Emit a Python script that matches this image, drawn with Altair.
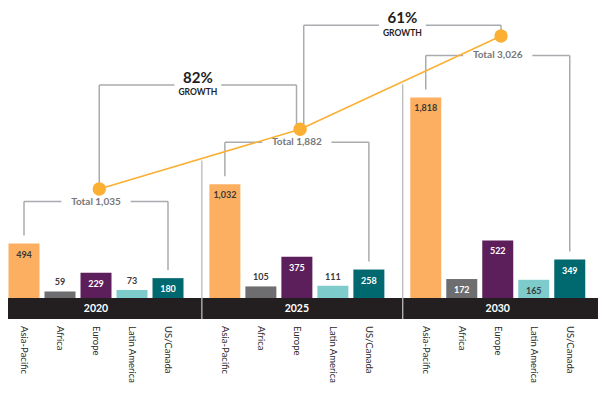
import altair as alt
import pandas as pd

# ---------------- data ----------------
years = ["2020", "2025", "2030"]
regions = ["Asia-Pacific", "Africa", "Europe", "Latin America", "US/Canada"]
asia_pacific = [494, 1032, 1818]
africa = [59, 105, 172]
europe = [229, 375, 522]
latin_america = [73, 111, 165]
us_canada = [180, 258, 349]
totals = [1035, 1882, 3026]
growth = ["82%", "61%"]

bar_colors = ["#FCAF60", "#6E6E70", "#5C1F5B", "#7ECBCB", "#00686F"]
inside_text_colors = ["#3A3A3A", "#FFFFFF", "#FFFFFF", "#3A3A3A", "#FFFFFF"]
LINE_COLOR = "#FBB034"
BRACKET = "#A9ABAE"
FONT = "Lato"

series = [asia_pacific, africa, europe, latin_america, us_canada]

# ---------------- layout ----------------
W, H = 590, 379
SLOT = 36.0            # px per bar slot
GROUP = 5.58           # slots between groups
X_MIN = -16.0 / SLOT
X_MAX = X_MIN + W / SLOT
PX = 0.1103            # px per unit (bars)
BASE = 290.0           # plot y of zero line
YB_MAX = BASE / PX
YB_MIN = -(H - BASE) / PX
BAND_H = 21
TOT_BOTTOM = 232.9     # plot y of total 0 on the totals scale

xs = alt.Scale(domain=[X_MIN, X_MAX], nice=False, zero=False, padding=0)
ysb = alt.Scale(domain=[YB_MIN, YB_MAX], nice=False, zero=False)
yst = alt.Scale(type="pow", exponent=1.28, domain=[0, 3344], range=[TOT_BOTTOM, 0], nice=False, zero=False)


def X(f):
    return alt.X(f, type="quantitative", scale=xs, axis=None)


def YB(f):
    return alt.Y(f, type="quantitative", scale=ysb, axis=None)


def YT(f):
    return alt.Y(f, type="quantitative", scale=yst, axis=None)


def gx(g, i):
    return g * GROUP + i


rows = []
for g, yr in enumerate(years):
    for i, reg in enumerate(regions):
        v = series[i][g]
        rows.append(dict(pos=gx(g, i), value=v, region=reg, year=yr, zero=0,
                         color=bar_colors[i], label=f"{v:,}",
                         tcolor=inside_text_colors[i], inside=v >= 150))
bars = pd.DataFrame(rows)

band = pd.DataFrame([dict(x=X_MIN, x2=X_MAX, zero=0)])
year_df = pd.DataFrame([dict(x=gx(g, 2), zero=0, year=y) for g, y in enumerate(years)])

# total brackets (bar scale)
th, tv, tl = [], [], []
for g in range(3):
    ap, us = asia_pacific[g], us_canada[g]
    mid = gx(g, 2)
    th.append(dict(x=gx(g, 0), x2=mid - 0.96, a=ap))
    th.append(dict(x=mid + 0.96, x2=gx(g, 4), a=ap))
    tv.append(dict(x=gx(g, 0), a=ap, b=ap))
    tv.append(dict(x=gx(g, 4), a=ap, b=us))
    tl.append(dict(x=mid, a=ap, label=f"Total {totals[g]:,}"))
th, tv, tl = pd.DataFrame(th), pd.DataFrame(tv), pd.DataFrame(tl)

# totals layer
dots = pd.DataFrame([dict(x=gx(g, 2) + 0.09, total=totals[g], zero=0) for g in range(3)])
seps = pd.DataFrame([dict(x=gx(g, 4) + 0.94, t=(totals[g] + totals[g + 1]) / 2, zero=0) for g in range(2)])
gh, gv, gt = [], [], []
for g in range(2):
    left = dots.x[g] + (0.0 if g == 0 else 0.1)
    right = dots.x[g + 1] - (0.0 if g + 1 == 2 else 0.1)
    mid = (left + right) / 2
    gh.append(dict(x=left, x2=mid - 0.65, t=totals[g]))
    gh.append(dict(x=mid + 0.65, x2=right, t=totals[g]))
    gv.append(dict(x=left, t=totals[g], t2=totals[g]))
    gv.append(dict(x=right, t=totals[g], t2=totals[g + 1]))
    gt.append(dict(x=mid, t=totals[g], pct=growth[g], word="GROWTH"))
gh, gv, gt = pd.DataFrame(gh), pd.DataFrame(gv), pd.DataFrame(gt)

# ---------------- bar layer ----------------
band_l = alt.Chart(band).mark_rect(color="#231F20", y2Offset=BAND_H).encode(
    x=X("x"), x2=alt.X2("x2"), y=YB("zero"), y2=alt.Y2("zero"))
bar_l = alt.Chart(bars).mark_bar(width=31).encode(
    x=X("pos"), y=YB("value"), y2=alt.Y2("zero"), color=alt.Color("color:N", scale=None))
inside_l = alt.Chart(bars).transform_filter("datum.inside").mark_text(
    font=FONT, fontSize=9, fontWeight="bold", yOffset=11, baseline="middle").encode(
    x=X("pos"), y=YB("value"), text="label:N", color=alt.Color("tcolor:N", scale=None))
outside_l = alt.Chart(bars).transform_filter("!datum.inside").mark_text(
    font=FONT, fontSize=9, fontWeight="bold", yOffset=-9, baseline="middle", color="#3A3A3A").encode(
    x=X("pos"), y=YB("value"), text="label:N")
year_l = alt.Chart(year_df).mark_text(
    font=FONT, fontSize=10.5, fontWeight="bold", color="white", yOffset=10.5, baseline="middle").encode(
    x=X("x"), y=YB("zero"), text="year:N")
cat_l = alt.Chart(bars).mark_text(
    font=FONT, fontSize=9.5, color="#2A2A2A", angle=90, align="left", baseline="middle", yOffset=28).encode(
    x=X("pos"), y=YB("zero"), text="region:N")
tbh_l = alt.Chart(th).mark_rule(color=BRACKET, strokeWidth=1.5, yOffset=-42).encode(
    x=X("x"), x2=alt.X2("x2"), y=YB("a"))
tbv_l = alt.Chart(tv).mark_rule(color=BRACKET, strokeWidth=1.5, yOffset=-42, y2Offset=-8).encode(
    x=X("x"), y=YB("a"), y2=alt.Y2("b"))
tlab_l = alt.Chart(tl).mark_text(
    font=FONT, fontSize=10, fontWeight="bold", color="#76787B", yOffset=-42, baseline="middle").encode(
    x=X("x"), y=YB("a"), text="label:N")

bar_layer = alt.layer(band_l, bar_l, inside_l, outside_l, year_l, cat_l, tbh_l, tbv_l, tlab_l)

# ---------------- totals layer ----------------
sep_l = alt.Chart(seps).mark_rule(color="#B8BABC", strokeWidth=1.3,
                                  y2Offset=(BASE + BAND_H) - TOT_BOTTOM).encode(
    x=X("x"), y=YT("t"), y2=alt.Y2("zero"))
gh_l = alt.Chart(gh).mark_rule(color=BRACKET, strokeWidth=1.5, yOffset=-104).encode(
    x=X("x"), x2=alt.X2("x2"), y=YT("t"))
gv_l = alt.Chart(gv).mark_rule(color=BRACKET, strokeWidth=1.5, yOffset=-104).encode(
    x=X("x"), y=YT("t"), y2=alt.Y2("t2"))
pct_l = alt.Chart(gt).mark_text(
    font=FONT, fontSize=15, fontWeight="bold", color="#1E1E1E", yOffset=-111, baseline="middle").encode(
    x=X("x"), y=YT("t"), text="pct:N")
word_l = alt.Chart(gt).mark_text(
    font=FONT, fontSize=8.5, fontWeight="bold", color="#1E1E1E", yOffset=-96.5, baseline="middle").encode(
    x=X("x"), y=YT("t"), text="word:N")
line_l = alt.Chart(dots).mark_line(color=LINE_COLOR, strokeWidth=1.6).encode(
    x=X("x"), y=YT("total"))
dot_l = alt.Chart(dots).mark_circle(color=LINE_COLOR, size=180, opacity=1).encode(
    x=X("x"), y=YT("total"))

tot_layer = alt.layer(sep_l, gh_l, gv_l, pct_l, word_l, line_l, dot_l)

chart = alt.layer(bar_layer, tot_layer).resolve_scale(y="independent").properties(
    width=W, height=H, autosize=alt.AutoSizeParams(type="none"), padding=0
).configure_view(stroke=None)

chart.save("out.html", embed_options={"renderer": "svg", "actions": False})
